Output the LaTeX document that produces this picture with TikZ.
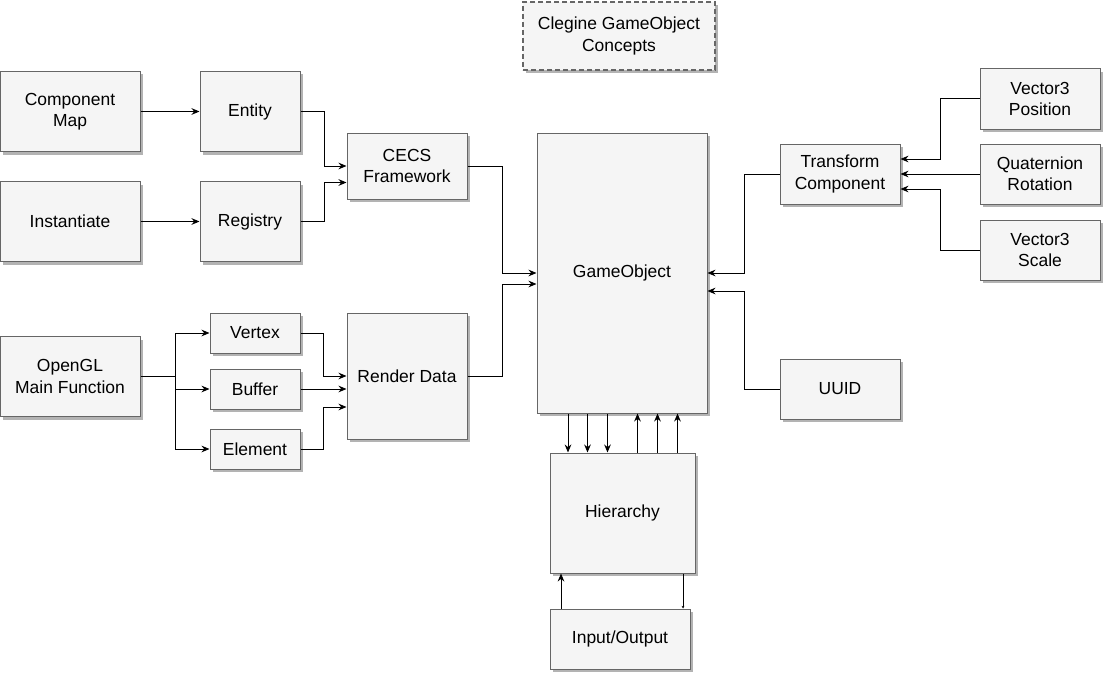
\documentclass[tikz,border=0pt]{standalone}
\usepackage{fontspec}
\setmainfont{Liberation Sans}
\usetikzlibrary{arrows.meta,shadows}
\definecolor{boxfill}{HTML}{F5F5F5}
\definecolor{boxline}{HTML}{666666}
\begin{document}
\begin{tikzpicture}[x=0.75pt,y=-0.75pt,>={Stealth[length=6pt,width=5pt]},
	box/.style={draw=boxline,fill=boxfill,line width=0.75pt,align=center,inner sep=0pt,
		font=\fontsize{13.1}{16}\selectfont,
		drop shadow={shadow xshift=2.25pt,shadow yshift=-2.25pt,fill=black!50,opacity=0.6}},
	link/.style={->,line width=0.75pt}]
	
	\useasboundingbox (0,0) rectangle (1103,674);
	
	% Title
	\node[box,dashed,dash pattern=on 3.5pt off 2.5pt,line width=1.1pt,minimum width=144pt,minimum height=51pt] (title) at (619,36) {Clegine GameObject\\Concepts};
	
	% The CECS side
	\node[box,minimum width=105pt,minimum height=60pt] (cmap) at (70,111.5) {Component\\Map};
	\node[box,minimum width=75pt,minimum height=60pt] (entity) at (250,111.5) {Entity};
	\node[box,minimum width=105pt,minimum height=60pt] (inst) at (70,221.5) {Instantiate};
	\node[box,minimum width=75pt,minimum height=60pt] (registry) at (250,221.5) {Registry};
	\node[box,minimum width=90pt,minimum height=49.5pt] (cecs) at (407,166) {CECS\\Framework};
	
	% The render side
	\node[box,minimum width=105pt,minimum height=60pt] (opengl) at (70,376.5) {OpenGL\\Main Function};
	\node[box,minimum width=67.5pt,minimum height=30pt] (vertex) at (255,333) {Vertex};
	\node[box,minimum width=67.5pt,minimum height=30pt] (buffer) at (255,389) {Buffer};
	\node[box,minimum width=67.5pt,minimum height=30pt] (element) at (255,449) {Element};
	\node[box,minimum width=90pt,minimum height=94.5pt] (render) at (407,376) {Render Data};
	
	% The middle
	\node[box,minimum width=127.5pt,minimum height=210pt] (gameobj) at (622,273) {GameObject};
	\node[box,minimum width=108.75pt,minimum height=90pt] (hier) at (622.5,513) {Hierarchy};
	\node[box,minimum width=105pt,minimum height=45pt] (io) at (620,639) {Input/Output};
	
	% The transform side
	\node[box,minimum width=90pt,minimum height=45pt] (transform) at (840,174) {Transform\\Component};
	\node[box,minimum width=90pt,minimum height=45pt] (vpos) at (1040,99) {Vector3\\Position};
	\node[box,minimum width=90pt,minimum height=45pt] (quat) at (1040,174) {Quaternion\\Rotation};
	\node[box,minimum width=90pt,minimum height=45pt] (vscale) at (1040,250) {Vector3\\Scale};
	\node[box,minimum width=90pt,minimum height=45pt] (uuid) at (840,389) {UUID};
	
	% Connectors, left
	\draw[link] (cmap) -- (entity);
	\draw[link] (inst) -- (registry);
	\draw[link] (entity.east) -| (324,166) -- (cecs.west);
	\draw[link] (registry.east) -| (324,182.5) -- (cecs.west |- 0,182.5);
	\draw[link] (cecs.east) -| (502,273) -- (gameobj.west);
	\draw[link] (render.east) -| (502,284) -- (gameobj.west |- 0,284);
	
	\coordinate (split) at (175,376.5);
	\draw[line width=0.75pt] (opengl.east) -- (split);
	\foreach \part in {vertex,buffer,element}
		\draw[link] (split) |- (\part.west);
	\draw[link] (vertex.east) -| (323,376) -- (render.west);
	\draw[link] (buffer.east) -- (render.west |- buffer.east);
	\draw[link] (element.east) -| (323,407) -- (render.west |- 0,407);
	
	% Connectors, right
	\draw[link] (transform.west) -| (744,273) -- (gameobj.east);
	\draw[link] (uuid.west) -| (744,291) -- (gameobj.east |- 0,291);
	\draw[link] (vpos.west) -| (940,159) -- (transform.east |- 0,159);
	\draw[link] (quat.west) -- (transform.east);
	\draw[link] (vscale.west) -| (940,189) -- (transform.east |- 0,189);
	
	% Hierarchy
	\foreach \xx in {568,587.5,607.5}
		\draw[link] (gameobj.south -| \xx,0) -- (hier.north -| \xx,0);
	\foreach \xx in {637.5,657.5,677.5}
		\draw[link] (hier.north -| \xx,0) -- (gameobj.south -| \xx,0);
	\draw[link] (io.north -| 561,0) -- (hier.south -| 561,0);
	\draw[line width=0.75pt,-{Stealth[length=2pt,width=2pt]}] (hier.south -| 683,0) -- (io.north -| 683,0);
	
\end{tikzpicture}
\end{document}
